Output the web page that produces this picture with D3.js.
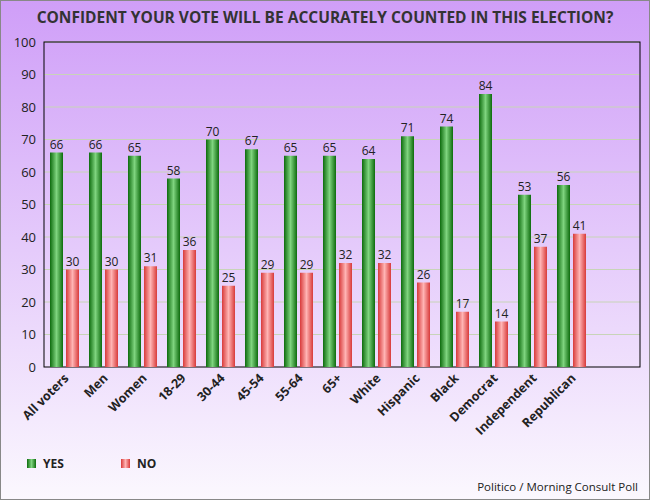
<!DOCTYPE html>
<html><head><meta charset="utf-8">
<script src="https://cdn.jsdelivr.net/npm/d3@7"></script>
<style>body{margin:0}svg{display:block;font-family:"Open Sans",sans-serif}</style>
</head><body>
<svg width="650" height="500"></svg>
<script>
var categories = ["All voters","Men","Women","18-29","30-44","45-54","55-64","65+","White","Hispanic","Black","Democrat","Independent","Republican"];
var yes = [66,66,65,58,70,67,65,65,64,71,74,84,53,56];
var no = [30,30,31,36,25,29,29,32,32,26,17,14,37,41];
var yTicks = d3.range(0, 101, 10);

var svg = d3.select("svg"),
    margin = {top: 42, right: 10, bottom: 133, left: 44},
    width = 650 - margin.left - margin.right,
    height = 500 - margin.top - margin.bottom;

var defs = svg.append("defs");
var bg = defs.append("linearGradient").attr("id","bg").attr("x1",0).attr("y1",0).attr("x2",0).attr("y2",1);
bg.append("stop").attr("offset","0%").attr("stop-color","#cf9ef8");
bg.append("stop").attr("offset","100%").attr("stop-color","#fbf8fe");
function barGrad(id, dark, light) {
  var g = defs.append("linearGradient").attr("id", id).attr("x1",0).attr("x2",1).attr("y1",0).attr("y2",0);
  g.append("stop").attr("offset","0%").attr("stop-color",dark);
  g.append("stop").attr("offset","50%").attr("stop-color",light);
  g.append("stop").attr("offset","100%").attr("stop-color",dark);
}
barGrad("gGreen", "#0d6b0d", "#7fd47f");
barGrad("gRed", "#d83a3a", "#ffb4b4");

svg.append("rect").attr("width",650).attr("height",500).attr("fill","url(#bg)")
  .attr("stroke","#888").attr("stroke-width",2);

svg.append("text").attr("x",325).attr("y",23).attr("text-anchor","middle")
  .attr("font-size",15.5).attr("font-weight","bold").attr("fill","#333")
  .text("CONFIDENT YOUR VOTE WILL BE ACCURATELY COUNTED IN THIS ELECTION?");

// bands do not fill the whole plot width: there is empty space on the right
var x = d3.scaleBand().domain(categories).range([0, 546]);
var y = d3.scaleLinear().domain([0, 100]).range([height, 0]);

var chart = svg.append("g").attr("transform","translate(" + margin.left + "," + margin.top + ")");

// gridlines
chart.selectAll(".grid").data(yTicks.slice(1)).enter().append("line")
  .attr("x1",0).attr("x2",width)
  .attr("y1",function(d){return y(d);}).attr("y2",function(d){return y(d);})
  .attr("stroke","#c8d4b8").attr("stroke-width",1);

chart.append("rect").attr("width",width).attr("height",height)
  .attr("fill","none").attr("stroke","#000");

// y axis
chart.append("g").call(d3.axisLeft(y).tickValues(yTicks).tickSize(0).tickPadding(8))
  .call(function(g){ g.select(".domain").remove(); })
  .selectAll("text").attr("font-size",13).attr("fill","#222").attr("font-family","Open Sans");

var bw = 13;
var grp = chart.selectAll(".grp").data(categories).enter().append("g")
  .attr("transform", function(d){ return "translate(" + x(d) + ",0)"; });

grp.append("rect").attr("x",6).attr("width",bw)
  .attr("y",function(d,i){return y(yes[i]);})
  .attr("height",function(d,i){return height - y(yes[i]);})
  .attr("fill","url(#gGreen)");
grp.append("rect").attr("x",22).attr("width",bw)
  .attr("y",function(d,i){return y(no[i]);})
  .attr("height",function(d,i){return height - y(no[i]);})
  .attr("fill","url(#gRed)");
grp.append("text").attr("x",6+bw/2).attr("y",function(d,i){return y(yes[i]) - 4;})
  .attr("text-anchor","middle").attr("font-size",12).attr("fill","#222")
  .text(function(d,i){return yes[i];});
grp.append("text").attr("x",22+bw/2).attr("y",function(d,i){return y(no[i]) - 4;})
  .attr("text-anchor","middle").attr("font-size",12).attr("fill","#222")
  .text(function(d,i){return no[i];});

// x labels
grp.append("text")
  .attr("transform","translate(" + (x.bandwidth()/2 + 6) + "," + (height + 12) + ") rotate(-45)")
  .attr("text-anchor","end").attr("font-size",12.5).attr("font-weight","bold").attr("fill","#222")
  .text(function(d){return d;});

// legend
var legend = [["YES","url(#gGreen)"],["NO","url(#gRed)"]];
var lg = svg.selectAll(".lg").data(legend).enter().append("g")
  .attr("transform",function(d,i){return "translate(" + (27 + i*94) + ",459)";});
lg.append("rect").attr("width",9).attr("height",9).attr("fill",function(d){return d[1];});
lg.append("text").attr("x",16).attr("y",9).attr("font-size",12).attr("font-weight","bold").attr("fill","#222")
  .text(function(d){return d[0];});

svg.append("text").attr("x",638).attr("y",491).attr("text-anchor","end")
  .attr("font-size",11.5).attr("fill","#222").text("Politico / Morning Consult Poll");
</script>
</body></html>
